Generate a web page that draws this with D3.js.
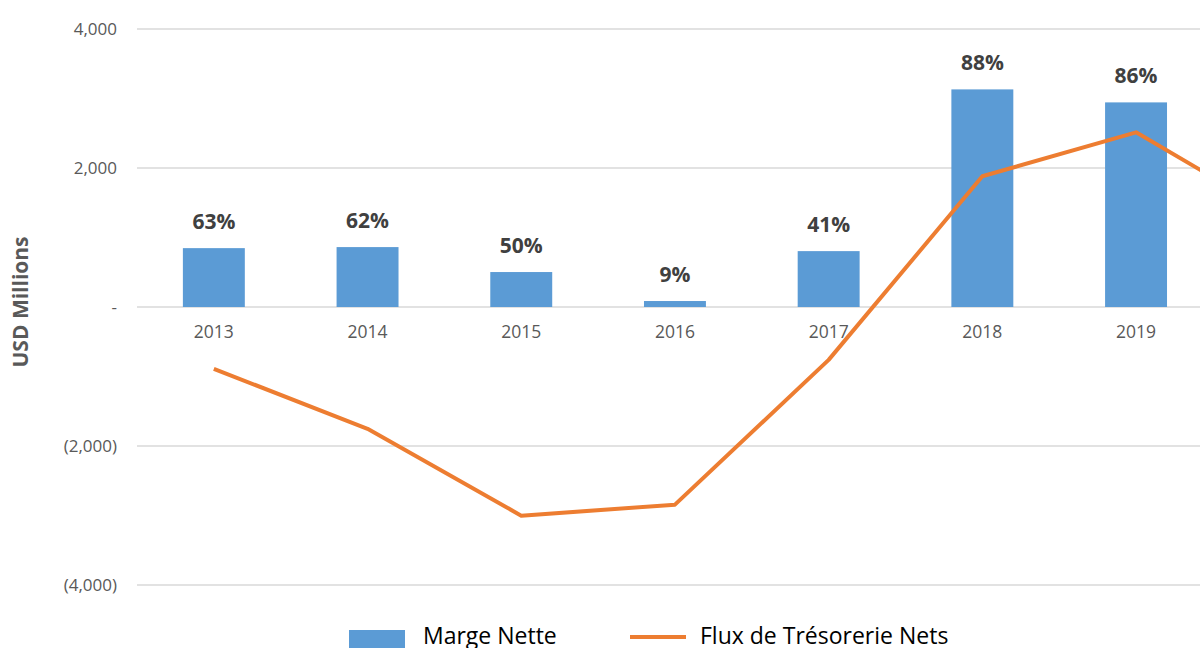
<!DOCTYPE html>
<html><head><meta charset="utf-8">
<script src="https://cdn.jsdelivr.net/npm/d3@7"></script>
<style>body{margin:0;background:#fff;} svg{display:block;font-family:"Open Sans",Lato,sans-serif;}</style>
</head><body><svg id="c" width="1200" height="648"></svg>
<script>
const categories = ["2013","2014","2015","2016","2017","2018","2019","2020"];
const shownCategoryLabels = ["2013","2014","2015","2016","2017","2018","2019"];
const margeNette = [847, 862, 503, 86, 804, 3131, 2944, null];
const margeLabels = ["63%","62%","50%","9%","41%","88%","86%",""];
const fluxTresorerie = [-890, -1752, -3002, -2844, -761, 1881, 2513, 1220];
const yTicks = [4000, 2000, 0, -2000, -4000];
const yTickLabels = ["4,000","2,000","-","(2,000)","(4,000)"];

const svg = d3.select("#c");
const left = 137, plotRight = 137 + 153.7*categories.length;
const x = d3.scaleBand().domain(categories).range([left, plotRight]).paddingInner(0.597).paddingOuter(0.2985);
const y = d3.scaleLinear().domain([-4000, 4000]).range([585, 29]);

// gridlines
svg.append("g").selectAll("line").data(yTicks).join("line")
  .attr("x1", left).attr("x2", 1200)
  .attr("y1", d => y(d)).attr("y2", d => y(d))
  .attr("stroke", "#d9d9d9").attr("stroke-width", 1.3);

// y axis labels
const yAxis = d3.axisLeft(y).tickValues(yTicks).tickSize(0).tickPadding(0)
  .tickFormat((d,i) => yTickLabels[i]);
const ya = svg.append("g").attr("transform", "translate(117,0)").call(yAxis);
ya.select(".domain").remove();
ya.selectAll("text").attr("fill", "#595959").style("font-size", "17px").style("font-family", "'Open Sans',sans-serif");

// x axis labels
const xAxis = d3.axisBottom(x).tickSize(0).tickPadding(0)
  .tickFormat(d => shownCategoryLabels.includes(d) ? d : "");
const xa = svg.append("g").attr("transform", `translate(0,${y(0)+19})`).call(xAxis);
xa.select(".domain").remove();
xa.selectAll("text").attr("fill", "#595959").style("font-size", "17.5px").style("font-family", "'Open Sans',sans-serif");

// bars
const barData = categories.map((c,i) => ({c, v: margeNette[i], l: margeLabels[i]})).filter(d => d.v != null);
svg.append("g").selectAll("rect").data(barData).join("rect")
  .attr("x", d => x(d.c)).attr("width", x.bandwidth())
  .attr("y", d => y(Math.max(0, d.v))).attr("height", d => Math.abs(y(d.v) - y(0)))
  .attr("fill", "#5B9BD5");

svg.append("g").selectAll("text").data(barData).join("text")
  .attr("x", d => x(d.c) + x.bandwidth()/2)
  .attr("y", d => y(d.v) - 19)
  .attr("text-anchor", "middle")
  .attr("fill", "#404040").style("font-size", "21px").style("font-weight", "bold")
  .style("font-family", "'Open Sans',sans-serif")
  .text(d => d.l);

// line
const line = d3.line().x((d,i) => x(categories[i]) + x.bandwidth()/2).y(d => y(d));
svg.append("path").datum(fluxTresorerie).attr("d", line)
  .attr("fill", "none").attr("stroke", "#ED7D31").attr("stroke-width", 4).attr("stroke-linejoin", "round");

// y title
svg.append("text").attr("transform", "translate(28,302) rotate(-90)")
  .attr("text-anchor", "middle").attr("fill", "#595959")
  .style("font-size", "21px").style("font-weight", "bold").style("font-family", "'Open Sans',sans-serif")
  .text("USD Millions");

// legend
svg.append("rect").attr("x", 349).attr("y", 630).attr("width", 56).attr("height", 20).attr("fill", "#5B9BD5");
svg.append("text").attr("x", 423).attr("y", 644).attr("fill", "#000").style("font-size", "23px").style("font-family", "'Open Sans',sans-serif").text("Marge Nette");
svg.append("line").attr("x1", 630).attr("x2", 686).attr("y1", 637).attr("y2", 637).attr("stroke", "#ED7D31").attr("stroke-width", 4);
svg.append("text").attr("x", 700).attr("y", 644).attr("fill", "#000").style("font-size", "23px").style("font-family", "'Open Sans',sans-serif").text("Flux de Trésorerie Nets");
</script></body></html>
